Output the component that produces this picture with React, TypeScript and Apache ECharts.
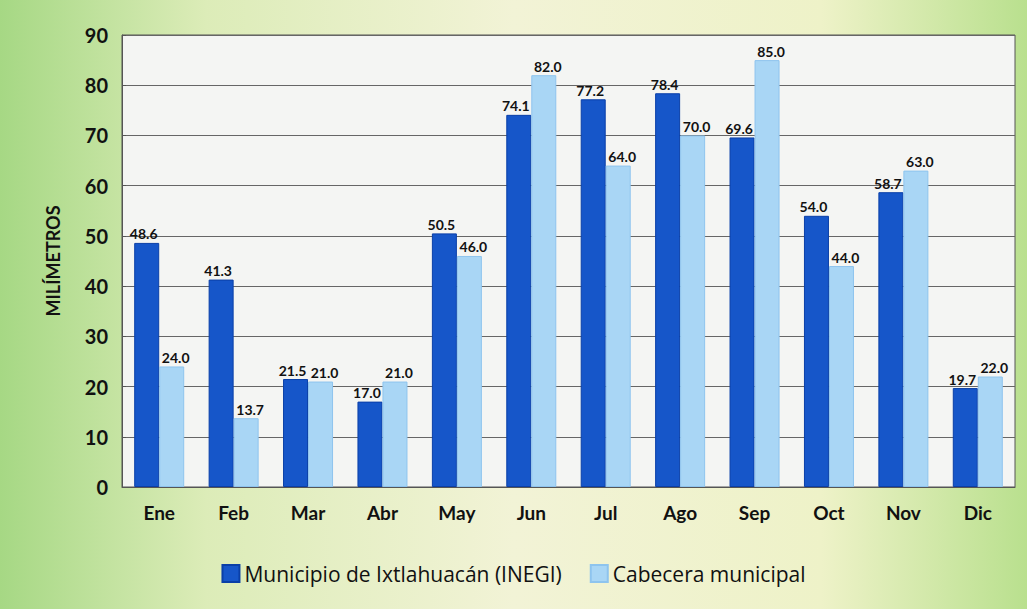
import React, { useEffect, useRef } from "react";
import * as echarts from "echarts";

const categories = ["Ene", "Feb", "Mar", "Abr", "May", "Jun", "Jul", "Ago", "Sep", "Oct", "Nov", "Dic"];
const municipio = [48.6, 41.3, 21.5, 17.0, 50.5, 74.1, 77.2, 78.4, 69.6, 54.0, 58.7, 19.7];
const cabecera = [24.0, 13.7, 21.0, 21.0, 46.0, 82.0, 64.0, 70.0, 85.0, 44.0, 63.0, 22.0];
const seriesNames = ["Municipio de Ixtlahuacán (INEGI)", "Cabecera municipal"];
const yAxisName = "MILÍMETROS";

const FONT = "Lato, 'Open Sans', sans-serif";

export default function App() {
  const ref = useRef<HTMLDivElement>(null);
  useEffect(() => {
    document.body.style.margin = "0";
    if (!ref.current) return;
    const chart = echarts.init(ref.current, null, { renderer: "svg" });
    const makeLabel = (dx: number) => ({
      show: true,
      position: "top",
      distance: 2,
      offset: [dx, 0],
      color: "#111",
      fontFamily: FONT,
      fontWeight: "bold",
      fontSize: 14,
      formatter: (p: any) => Number(p.value).toFixed(1),
    });
    chart.setOption({
      animation: false,
      textStyle: { fontFamily: FONT },
      grid: {
        left: 122,
        right: 12,
        top: 35,
        bottom: 122,
        show: true,
        backgroundColor: "#f4f5f3",
        borderColor: "#555",
        borderWidth: 1,
      },
      legend: {
        bottom: 20,
        left: "center",
        itemWidth: 17,
        itemHeight: 17,
        itemGap: 28,
        icon: "rect",
        textStyle: { color: "#111", fontSize: 21, fontFamily: "'Open Sans', sans-serif" },
        data: seriesNames,
      },
      xAxis: {
        type: "category",
        data: categories,
        axisLine: { lineStyle: { color: "#555" } },
        axisTick: { show: false },
        axisLabel: { color: "#111", fontSize: 19, fontWeight: "bold", margin: 16, fontFamily: FONT },
      },
      yAxis: {
        type: "value",
        min: 0,
        max: 90,
        interval: 10,
        name: yAxisName,
        nameLocation: "middle",
        nameGap: 60,
        nameTextStyle: { color: "#111", fontSize: 18, fontWeight: "bold", fontFamily: FONT },
        axisLine: { show: true, lineStyle: { color: "#555" } },
        axisTick: { show: true, length: 4, inside: true, lineStyle: { color: "#555" } },
        axisLabel: { color: "#111", fontSize: 20, fontWeight: "bold", margin: 14, fontFamily: FONT },
        splitLine: { lineStyle: { color: "#666", width: 1.2 } },
      },
      series: [
        {
          name: seriesNames[0],
          type: "bar",
          data: municipio,
          barWidth: 25,
          barGap: "0%",
          itemStyle: { color: "#1656c9", borderColor: "#0a3fa8", borderWidth: 1 },
          label: makeLabel(-3),
        },
        {
          name: seriesNames[1],
          type: "bar",
          data: cabecera,
          barWidth: 25,
          barGap: "0%",
          itemStyle: { color: "#a9d6f5", borderColor: "#8ec4ee", borderWidth: 1 },
          label: makeLabel(4),
        },
      ],
    });
    return () => chart.dispose();
  }, []);
  return (
    <div
      ref={ref}
      style={{
        width: 1027,
        height: 609,
        background: "linear-gradient(90deg, #a6d884 0%, #dcecb8 20%, #f2f3d6 50%, #eef2c8 80%, #b9e08e 100%)",
      }}
    />
  );
}
